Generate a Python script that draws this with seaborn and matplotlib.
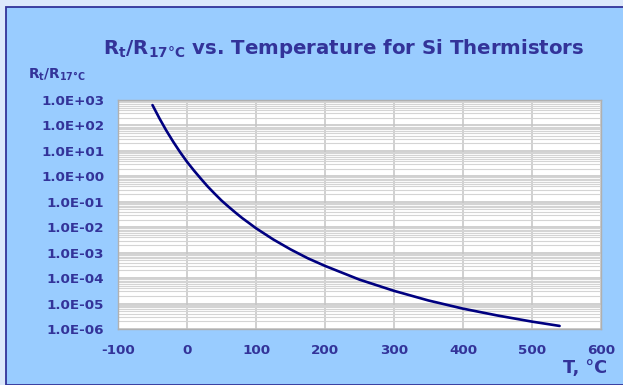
import numpy as np
import pandas as pd
import seaborn as sns
import matplotlib.pyplot as plt
from matplotlib import ticker
from matplotlib.patches import Rectangle

# values
temp_c = [-50, -40, -30, -20, -10, 0, 10, 20, 30, 40, 50, 60, 70, 80, 90, 100,
          125, 150, 175, 200, 250, 300, 350, 400, 450, 500, 540]
r_ratio = [631, 191, 63.1, 22.9, 8.91, 3.72, 1.70, 0.813, 0.398, 0.209, 0.112,
           0.0646, 0.0380, 0.0229, 0.0145, 0.00912, 0.00331, 0.00135, 6.03e-4,
           3.02e-4, 8.71e-5, 3.16e-5, 1.32e-5, 6.31e-6, 3.39e-6, 1.95e-6, 1.32e-6]
x_ticks = [-100, 0, 100, 200, 300, 400, 500, 600]
y_ticks = [1e-6, 1e-5, 1e-4, 1e-3, 1e-2, 1e-1, 1e0, 1e1, 1e2, 1e3]

sns.set_style("white")
plt.rcParams['font.family'] = ['DejaVu Sans']
plt.rcParams['font.weight'] = 'bold'
plt.rcParams['mathtext.fontset'] = 'custom'
plt.rcParams['mathtext.rm'] = 'DejaVu Sans:bold'
plt.rcParams['mathtext.it'] = 'DejaVu Sans:bold'
plt.rcParams['mathtext.bf'] = 'DejaVu Sans:bold'

txt = '#333399'
df = pd.DataFrame({"T": temp_c, "R": r_ratio})

fig = plt.figure(figsize=(6.23, 3.85), dpi=100, facecolor='#dce8fb')
# inner blue panel
fig.patches.append(Rectangle((6 / 623, 0), 1.0, 1 - 7 / 385, transform=fig.transFigure,
                             facecolor='#99ccff', edgecolor='#333399', linewidth=1.3,
                             zorder=-5))

ax = fig.add_axes([118 / 623, 56 / 385, 483 / 623, 229 / 385])
ax.set_zorder(2)
ax.set_facecolor('white')
sns.lineplot(data=df, x="T", y="R", ax=ax, color='#000080', linewidth=1.9)

ax.set_yscale('log')
ax.set_xlim(-100, 600)
ax.set_ylim(1e-6, 1e3)
ax.set_xticks(x_ticks)
ax.set_yticks(y_ticks)
ax.yaxis.set_minor_locator(ticker.LogLocator(base=10, subs=range(2, 10), numticks=100))
ax.yaxis.set_minor_formatter(ticker.NullFormatter())
ax.yaxis.set_major_formatter(ticker.FuncFormatter(lambda v, p: f"{v:.1E}"))
ax.xaxis.set_major_formatter(ticker.FuncFormatter(lambda v, p: f"{int(v)}"))

ax.grid(True, which='major', color='#c4c4c4', linewidth=1.1)
ax.grid(True, which='minor', axis='y', color='#d4d4d4', linewidth=0.8)
ax.tick_params(axis='both', which='both', length=0, colors=txt, labelsize=9.7)
ax.tick_params(axis='y', pad=10)
ax.tick_params(axis='x', pad=11)
for lab in ax.get_xticklabels() + ax.get_yticklabels():
    lab.set_fontweight('bold')
for s in ax.spines.values():
    s.set_color('#b0b0b0')
    s.set_linewidth(1.0)
ax.set_xlabel('')
ax.set_ylabel('')

fig.text(344 / 623, 1 - 49 / 385,
         r'R$_\mathrm{t}$/R$_\mathrm{17°C}$ vs. Temperature for Si Thermistors',
         ha='center', va='center', fontsize=14.2, fontweight='bold', color=txt)
fig.text(28 / 623, 1 - 75 / 385, r'R$_\mathrm{t}$/R$_\mathrm{17°C}$', ha='left',
         va='center', fontsize=9.8, fontweight='bold', color=txt)
fig.text(607 / 623, 1 - 368 / 385, 'T, °C', ha='right', va='center',
         fontsize=12.8, fontweight='bold', color=txt)

plt.savefig('out.png', dpi=100, facecolor=fig.get_facecolor())
